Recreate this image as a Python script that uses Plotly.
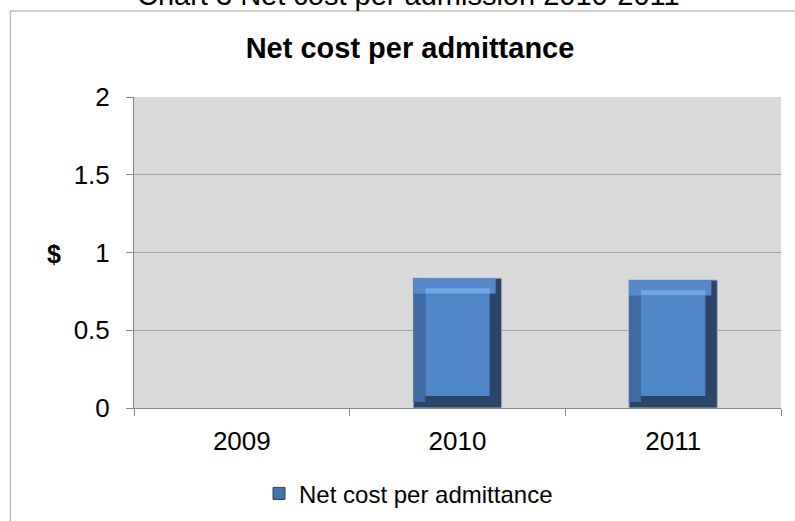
import plotly.graph_objects as go

# ---- data ----
years = ["2009", "2010", "2011"]
net_cost = [None, 0.835, 0.823]
y_ticks = [0, 0.5, 1, 1.5, 2]
y_tick_labels = ["0", "0.5", "1", "1.5", "2"]
series_name = "Net cost per admittance"
chart_title = "Net cost per admittance"
caption = "Chart 3 Net cost per admission 2010-2011"

# ---- bevel styling (axis units) ----
W = 0.41      # bar width (category units)
BX = 0.056    # side bevel width
BT = 0.10     # top bevel height (y units)
BB = 0.077    # bottom bevel height

FONT = "Liberation Sans, Arial, sans-serif"


def derived(fn):
    return [None if v is None else fn(v) for v in net_cost]


fig = go.Figure()

# outer (dark right/bottom bevel)
fig.add_trace(go.Bar(x=years, y=net_cost, base=0, width=W, offset=-W / 2,
                     marker=dict(color="#2B4569", line=dict(color="#A7B2BF", width=1)),
                     showlegend=False, hoverinfo="skip"))
# left bevel
fig.add_trace(go.Bar(x=years, y=derived(lambda v: v - BB * 0.5), base=derived(lambda v: BB * 0.5),
                     width=BX, offset=-W / 2,
                     marker=dict(color="#3F6BA2", line=dict(width=0)),
                     showlegend=False, hoverinfo="skip"))
# top bevel
fig.add_trace(go.Bar(x=years, y=derived(lambda v: BT), base=derived(lambda v: v - BT),
                     width=W - BX * 0.5, offset=-W / 2,
                     marker=dict(color="#5689CA", line=dict(width=0)),
                     showlegend=False, hoverinfo="skip"))
# top highlight
fig.add_trace(go.Bar(x=years, y=derived(lambda v: BT * 0.35), base=derived(lambda v: v - BT),
                     width=W - 2 * BX, offset=-W / 2 + BX,
                     marker=dict(color="#74A7E6", line=dict(width=0)),
                     showlegend=False, hoverinfo="skip"))
# face
fig.add_trace(go.Bar(x=years, y=derived(lambda v: v - BT - BB), base=derived(lambda v: BB),
                     width=W - 2 * BX, offset=-W / 2 + BX,
                     marker=dict(color="#5087C8", line=dict(width=0)),
                     name=series_name, showlegend=False))
# legend entry
fig.add_trace(go.Bar(x=[years[0]], y=[None], name=series_name,
                     marker=dict(color="#4372AD", line=dict(color="#2B4569", width=1)),
                     showlegend=True))

fig.update_layout(
    template="none",
    width=795, height=521,
    margin=dict(l=134, r=14, t=97, b=113, autoexpand=False),
    paper_bgcolor="white",
    plot_bgcolor="#D9D9D9",
    barmode="overlay",
    font=dict(family=FONT, size=26, color="black"),
    title=dict(text="<b>" + chart_title + "</b>", x=0.4266, xref="paper", xanchor="center",
               y=0.909, yref="container", yanchor="middle",
               font=dict(family=FONT, size=29, color="black")),
    xaxis=dict(type="category", categoryorder="array", categoryarray=years,
               range=[-0.5, 2.5], showgrid=False, showline=True, linecolor="#868686",
               linewidth=1, ticks="outside", tickson="boundaries", ticklen=7,
               tickcolor="#868686", ticklabelstandoff=10, automargin=False,
               tickfont=dict(family=FONT, size=26), zeroline=False),
    yaxis=dict(range=[0, 2], tickvals=y_ticks, ticktext=y_tick_labels,
               showgrid=True, gridcolor="#A3A3A3", gridwidth=1,
               showline=True, linecolor="#868686", linewidth=1,
               ticks="outside", ticklen=7, tickcolor="#868686", automargin=False,
               ticklabelstandoff=11, tickfont=dict(family=FONT, size=26),
               zeroline=False),
    legend=dict(orientation="h", x=0.4243, xanchor="center", y=-0.276, yanchor="middle",
                font=dict(family=FONT, size=24), itemwidth=30, bgcolor="rgba(0,0,0,0)",
                borderwidth=0),
    showlegend=True,
)

# "$" axis label (horizontal)
fig.add_annotation(text="<b>$</b>", x=-0.123, xref="paper", y=0.495, yref="paper",
                   xanchor="center", yanchor="middle", showarrow=False,
                   font=dict(family=FONT, size=25, color="black"))
# caption cut off at top
fig.add_annotation(text=caption, x=0.4243, xref="paper", y=1.328, yref="paper",
                   xanchor="center", yanchor="middle", showarrow=False,
                   font=dict(family=FONT, size=29, color="black"))
# chart area border
fig.add_shape(type="rect", xref="paper", yref="paper", x0=-0.191, x1=1.2, y0=-0.6, y1=1.2765,
              line=dict(color="#BDBDBD", width=1.5), fillcolor="rgba(0,0,0,0)", layer="below")

fig.write_html("out.html")
